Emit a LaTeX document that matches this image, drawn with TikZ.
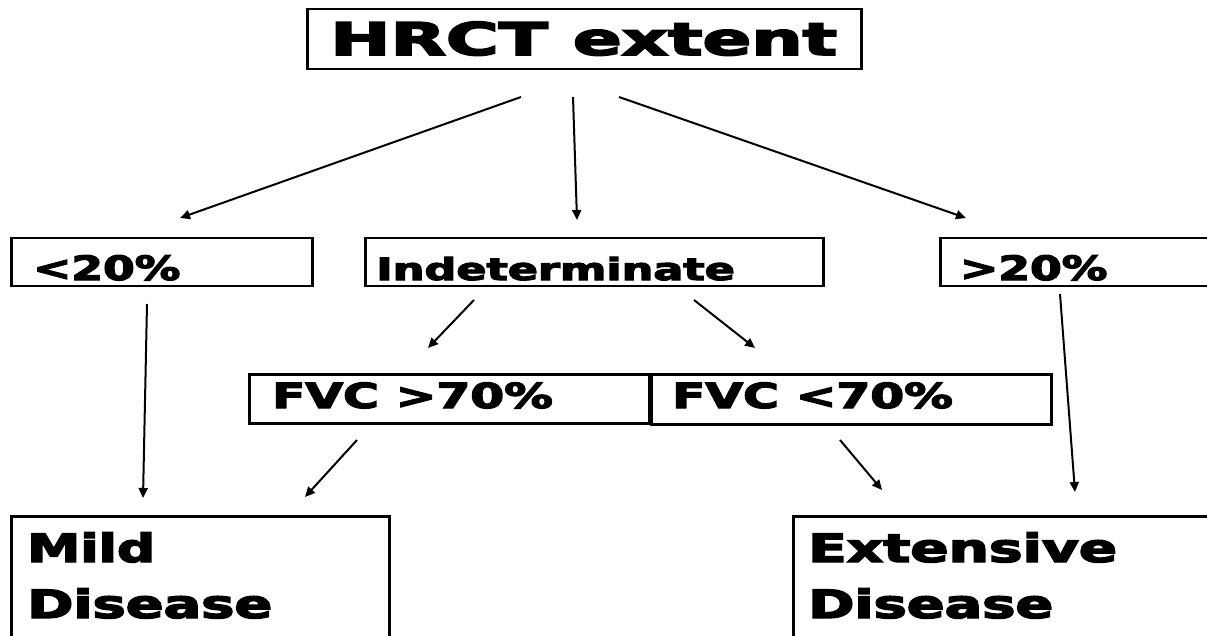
\documentclass[tikz,border=0pt]{standalone}
\usepackage{fontspec}
\setmainfont{DejaVu Sans}
\usetikzlibrary{arrows.meta}
\newfontfamily\bfam[FakeBold=3.5]{DejaVu Sans Bold}
\newcommand{\wtxt}[3]{{\fontsize{#1}{#1}\bfam\scalebox{#2}[1]{#3}}}
\tikzset{
  box/.style={draw=black, line width=2.5pt, rectangle, inner sep=0pt, anchor=north west},
  lbl/.style={anchor=base west, inner sep=0pt, text=black},
  arr/.style={draw=black, line width=2pt, -{Triangle[length=10pt,width=9pt]}}
}
\begin{document}
\begin{tikzpicture}[x=1pt,y=-1pt]
\clip (0,0) rectangle (1207,636);
\fill[white] (0,0) rectangle (1207,636);
% boxes
\node[box, minimum width=554pt, minimum height=60pt] (hrct) at (306,8) {};
\node[box, minimum width=301pt, minimum height=48pt] (lt) at (10,237) {};
\node[box, minimum width=458pt, minimum height=48pt] (ind) at (364,237) {};
\node[box, minimum width=290pt, minimum height=48pt] (gt) at (939,237) {};
\node[box, minimum width=400pt, minimum height=49pt] (fhi) at (248,373) {};
\node[box, minimum width=400pt, minimum height=50pt] (flo) at (650,373) {};
\node[box, minimum width=378pt, minimum height=140pt] (mild) at (10,515) {};
\node[box, minimum width=430pt, minimum height=140pt] (ext) at (792,515) {};
% texts
\node[lbl] (thrct) at (330,55) {\wtxt{45}{1.6}{HRCT extent}};
\node[lbl] (tlt) at (33,280) {\wtxt{33.5}{1.36}{<20\%}};
\node[lbl] (tind) at (376,280) {\wtxt{30.5}{1.46}{Indeterminate}};
\node[lbl] (tgt) at (960,280) {\wtxt{33.5}{1.36}{>20\%}};
\node[lbl] (tfhi) at (272,408) {\wtxt{34.5}{1.41}{FVC >70\%}};
\node[lbl] (tflo) at (672,408) {\wtxt{34.5}{1.41}{FVC <70\%}};
\node[lbl] (tmild1) at (27,562) {\wtxt{39}{1.37}{Mild}};
\node[lbl] (tmild2) at (27,618) {\wtxt{39}{1.43}{Disease}};
\node[lbl] (text1) at (808,562) {\wtxt{39}{1.45}{Extensive}};
\node[lbl] (text2) at (808,618) {\wtxt{39}{1.43}{Disease}};
% connector end points
\coordinate (s1) at (521,97);  \coordinate (e1) at (180,218);
\coordinate (s2) at (573,97);  \coordinate (e2) at (577,220);
\coordinate (s3) at (619,97);  \coordinate (e3) at (966,218);
\coordinate (s4) at (147,304); \coordinate (e4) at (143,498);
\coordinate (s5) at (474,300); \coordinate (e5) at (428,348);
\coordinate (s6) at (694,300); \coordinate (e6) at (755,348);
\coordinate (s7) at (1060,294);\coordinate (e7) at (1075,492);
\coordinate (s8) at (357,440); \coordinate (e8) at (305,497);
\coordinate (s9) at (840,440); \coordinate (e9) at (882,490);
\draw[arr] (s1) -- (e1);
\draw[arr] (s2) -- (e2);
\draw[arr] (s3) -- (e3);
\draw[arr] (s4) -- (e4);
\draw[arr] (s5) -- (e5);
\draw[arr] (s6) -- (e6);
\draw[arr] (s7) -- (e7);
\draw[arr] (s8) -- (e8);
\draw[arr] (s9) -- (e9);
\end{tikzpicture}
\end{document}
